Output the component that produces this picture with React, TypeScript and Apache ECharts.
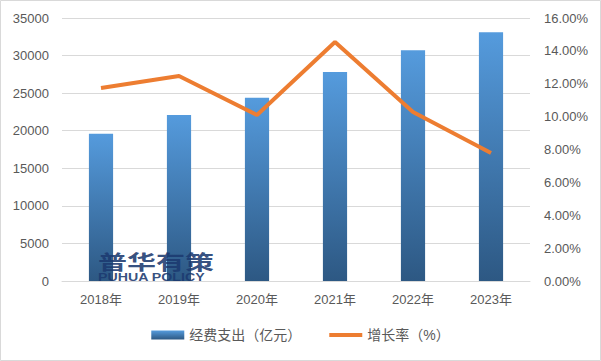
import React, { useEffect, useRef } from "react";
import * as echarts from "echarts";

const categories = ["2018年", "2019年", "2020年", "2021年", "2022年", "2023年"];
const spending = [19600, 22100, 24400, 27800, 30700, 33100];
const growth = [11.74, 12.47, 10.1, 14.54, 10.28, 7.79];
const seriesNames = ["经费支出（亿元）", "增长率（%）"];

const FONT = "'Liberation Sans', 'Noto Sans CJK SC', sans-serif";

export default function App() {
  const ref = useRef<HTMLDivElement>(null);
  useEffect(() => {
    document.body.style.margin = "0";
    const chart = echarts.init(ref.current!, null, { renderer: "svg" });
    chart.setOption({
      animation: false,
      backgroundColor: "#ffffff",
      textStyle: { fontFamily: FONT },
      grid: { left: 62, right: 71, top: 18, bottom: 80 },
      legend: {
        bottom: 14,
        left: "center",
        itemGap: 28,
        itemWidth: 33,
        itemHeight: 9,
        textStyle: { color: "#595959", fontSize: 14, fontFamily: FONT },
        data: [
          { name: seriesNames[0], icon: "rect" },
          { name: seriesNames[1], icon: "path://M0,0 H33 V4 H0 Z" },
        ],
      },
      xAxis: {
        type: "category",
        data: categories,
        axisLine: { lineStyle: { color: "#D9D9D9" } },
        axisTick: { show: false },
        axisLabel: { color: "#595959", fontSize: 13, margin: 12 },
      },
      yAxis: [
        {
          type: "value",
          min: 0,
          max: 35000,
          interval: 5000,
          axisLine: { show: false },
          axisTick: { show: false },
          splitLine: { lineStyle: { color: "#D9D9D9" } },
          axisLabel: {
            color: "#595959",
            fontSize: 13,
            margin: 13,
            formatter: (v: number) => String(v),
          },
        },
        {
          type: "value",
          min: 0,
          max: 16,
          interval: 2,
          axisLine: { show: false },
          axisTick: { show: false },
          splitLine: { show: false },
          axisLabel: {
            color: "#595959",
            fontSize: 13,
            margin: 14,
            formatter: (v: number) => v.toFixed(2) + "%",
          },
        },
      ],
      series: [
        {
          name: seriesNames[0],
          type: "bar",
          data: spending,
          barWidth: "31%",
          itemStyle: {
            color: new echarts.graphic.LinearGradient(0, 0, 0, 1, [
              { offset: 0, color: "#559BDD" },
              { offset: 1, color: "#2D5883" },
            ]),
          },
        },
        {
          name: seriesNames[1],
          type: "line",
          yAxisIndex: 1,
          data: growth,
          symbol: "none",
          lineStyle: { color: "#ED7D31", width: 4 },
          itemStyle: { color: "#ED7D31" },
        },
      ],
      graphic: [
        {
          type: "rect",
          shape: { x: 0.5, y: 0.5, width: 600, height: 360 },
          style: { fill: "none", stroke: "#D9D9D9", lineWidth: 1 },
          silent: true,
        },
        {
          type: "text",
          x: 98,
          y: 251,
          scaleX: 1.45,
          style: {
            text: "普华有策",
            fontSize: 20,
            fontWeight: "bold",
            fill: "rgba(28,58,112,0.9)",
            fontFamily: "'Noto Sans CJK SC', sans-serif",
          },
          z: 100,
        },
        {
          type: "text",
          x: 98,
          y: 273,
          scaleX: 1.42,
          style: {
            text: "PUHUA POLICY",
            fontSize: 10,
            fontWeight: "bold",
            fill: "rgba(28,58,112,0.9)",
            fontFamily: "'Liberation Sans', sans-serif",
          },
          z: 100,
        },
      ],
    });
    return () => chart.dispose();
  }, []);
  return <div ref={ref} style={{ width: 601, height: 361 }} />;
}
